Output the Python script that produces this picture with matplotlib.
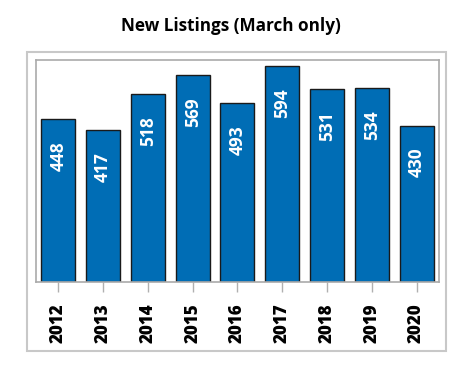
import matplotlib.pyplot as plt
from matplotlib.patches import Rectangle

years = ['2012', '2013', '2014', '2015', '2016', '2017', '2018', '2019', '2020']
listings = [448, 417, 518, 569, 493, 594, 531, 534, 430]

plt.rcParams['font.family'] = ['Open Sans', 'DejaVu Sans']

fig = plt.figure(figsize=(4.71, 3.78), dpi=100)
ax = fig.add_axes([0.0764, 0.254, 0.8556, 0.587])

# outer frame around plot + labels
fig.patches.append(Rectangle((0.0573, 0.0714), 0.890, 0.791, transform=fig.transFigure,
                             fill=False, edgecolor='#c8c8c8', linewidth=1.5))

x = range(len(years))
ax.bar(x, listings, width=0.76, color='#006DB5', edgecolor='#1a1a1a', linewidth=1)

for i, v in enumerate(listings):
    ax.annotate(str(v), xy=(i, v), xytext=(0, -16), textcoords='offset points',
                rotation=90, ha='center', va='top', color='white',
                fontsize=12.5, fontweight='bold')

ax.set_xlim(-0.5, 8.5)
ax.set_ylim(0, 610)
ax.set_yticks([])
ax.set_xticks(list(x))
ax.set_xticklabels(years, rotation=90, fontsize=12.2, fontweight='heavy')
ax.tick_params(axis='x', length=7.5, width=1, color='#b0b0b0', pad=8)
for s in ax.spines.values():
    s.set_color('#aaaaaa')
    s.set_linewidth(1.2)

fig.text(0.49, 0.932, 'New Listings (March only)', ha='center', va='center',
         fontsize=12.3, fontweight='bold')

fig.savefig('out.png', dpi=100)
